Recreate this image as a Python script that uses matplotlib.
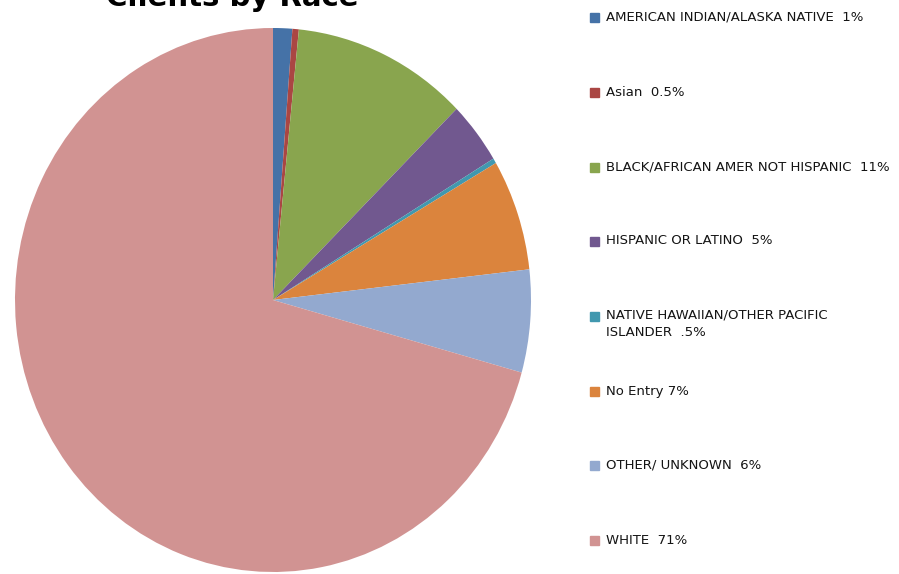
import matplotlib
matplotlib.use('Agg')
import matplotlib.pyplot as plt
from matplotlib.patches import Rectangle

labels = ['AMERICAN INDIAN/ALASKA NATIVE  1%', 'Asian  0.5%',
          'BLACK/AFRICAN AMER NOT HISPANIC  11%', 'HISPANIC OR LATINO  5%',
          'NATIVE HAWAIIAN/OTHER PACIFIC\nISLANDER  .5%', 'No Entry 7%',
          'OTHER/ UNKNOWN  6%', 'WHITE  71%']
values = [1.2, 0.4, 11.0, 3.7, 0.3, 6.6, 6.1, 70.7]
colors = ['#4572A7', '#AA4643', '#89A54E', '#71588F', '#4198AF',
          '#DB843D', '#93A9CF', '#D19392']

W, H = 899, 574
fig = plt.figure(figsize=(W / 100, H / 100), dpi=100)

# pie box in pixels (slightly taller than wide, like the reference)
x0, x1, y0, y1 = 15, 531, 28, 572
ax = fig.add_axes([x0 / W, 1 - y1 / H, (x1 - x0) / W, (y1 - y0) / H])
ax.pie(values, colors=colors, startangle=90, counterclock=False,
       wedgeprops=dict(linewidth=0))
ax.set_aspect('auto')
ax.set_xlim(-1, 1)
ax.set_ylim(-1, 1)
ax.axis('off')

# title sits mostly above the top edge, as in the reference
fig.text(232 / W, 1 - 6 / H, 'Clients by Race', ha='center', va='baseline',
         fontsize=21, fontweight='bold', family='DejaVu Sans')

# legend drawn by hand
ys = [17, 92, 167, 241, 316, 391, 465, 540]
for lab, c, y in zip(labels, colors, ys):
    fig.patches.append(Rectangle((590 / W, 1 - (y + 5) / H), 9 / W, 9 / H,
                                 color=c, transform=fig.transFigure))
    if '\n' in lab:
        fig.text(606 / W, 1 - (y - 8) / H, lab, ha='left', va='top',
                 fontsize=9.5, family='DejaVu Sans', color='#141414',
                 linespacing=1.45)
    else:
        fig.text(606 / W, 1 - y / H, lab, ha='left', va='center',
                 fontsize=9.5, family='DejaVu Sans', color='#141414')

fig.savefig('out.png', dpi=100)
